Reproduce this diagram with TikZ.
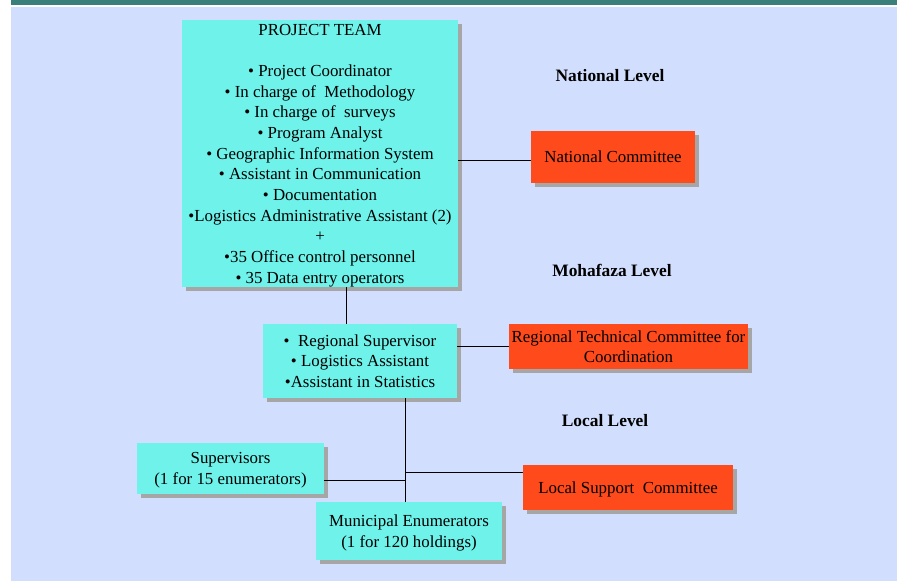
\documentclass[tikz,border=0pt]{standalone}
\usepackage{fontspec}
\setmainfont{Liberation Serif}
\usepackage{xcolor}
\usetikzlibrary{positioning,calc,shadows}

\definecolor{pagebg}{HTML}{D2DEFD}
\definecolor{topbar}{HTML}{3B7F7B}
\definecolor{teamcyan}{HTML}{6EF2EA}
\definecolor{comred}{HTML}{FF4A1C}
\definecolor{shadowgray}{HTML}{A6A6A6}

\begin{document}
\begin{tikzpicture}[
    teambox/.style={fill=teamcyan, inner sep=0pt, align=center, text depth=0pt,
        font=\fontsize{16}{19.6}\selectfont,
        drop shadow={shadow xshift=0.13cm, shadow yshift=-0.13cm, fill=shadowgray, opacity=1}},
    combox/.style={teambox, fill=comred},
    levellabel/.style={font=\fontsize{16.5}{19.6}\selectfont\bfseries},
    link/.style={line width=0.8pt}
]
    \useasboundingbox (0,0) rectangle (29.9,19.367);
    \fill [pagebg] (0.367,0) rectangle (29.9,19.133);
    \fill [topbar] (0.367,19.21) rectangle (29.9,19.367);

    % teams
    \node [teambox, minimum width=9.2cm, minimum height=8.9cm] (team) at (10.667,14.25)
        {PROJECT TEAM\\[19.6pt]
         \textbullet\ Project Coordinator\\
         \textbullet\ In charge of\ \ Methodology\\
         \textbullet\ In charge of\ \ surveys\\
         \textbullet\ Program Analyst\\
         \textbullet\ Geographic Information System\\
         \textbullet\ Assistant in Communication\\
         \textbullet\ Documentation\\
         \textbullet Logistics Administrative Assistant (2)\\
         +\\
         \textbullet 35 Office control personnel\\
         \textbullet\ 35 Data entry operators};
    \node [teambox, minimum width=6.467cm, minimum height=2.467cm] (reg) at (12.0,7.333)
        {\textbullet\ \ Regional Supervisor\\
         \textbullet\ Logistics Assistant\\
         \textbullet Assistant in Statistics};
    \node [teambox, minimum width=6.233cm, minimum height=1.7cm] (sup) at (7.683,3.75)
        {Supervisors\\(1 for 15 enumerators)};
    \node [teambox, minimum width=6.2cm, minimum height=1.933cm] (mun) at (13.633,1.667)
        {Municipal Enumerators\\(1 for 120 holdings)};

    % committees
    \node [combox, minimum width=5.467cm, minimum height=1.733cm] (natcom) at (20.433,14.133)
        {National Committee};
    \node [combox, minimum width=7.967cm, minimum height=1.5cm] (rtc) at (20.95,7.817)
        {Regional Technical Committee for\\Coordination};
    \node [combox, minimum width=7.0cm, minimum height=1.5cm] (lsc) at (20.933,3.117)
        {Local Support\ \ Committee};

    % levels
    \node [levellabel] (natlevel) at (20.333,16.833) {National Level};
    \node [levellabel] (mohlevel) at (20.4,10.367) {Mohafaza Level};
    \node [levellabel] (loclevel) at (20.167,5.333) {Local Level};

    % links
    \coordinate (nclink) at ([yshift=-0.13cm]natcom.west);
    \draw [link] (team.east |- nclink) -- (nclink);
    \coordinate (treg) at ([xshift=0.867cm]team.south);
    \draw [link] (treg) -- (treg |- reg.north);
    \draw [link] (reg.east |- rtc.west) -- (rtc.west);
    \coordinate (rmun) at ([xshift=1.5cm]reg.south);
    \draw [link] (rmun) -- (rmun |- mun.north);
    \coordinate (suplink) at ([yshift=-0.383cm]sup.east);
    \draw [link] (suplink) -- (suplink -| rmun);
    \coordinate (lsclink) at ([yshift=0.5cm]lsc.west);
    \draw [link] (lsclink -| rmun) -- (lsclink);
\end{tikzpicture}
\end{document}
